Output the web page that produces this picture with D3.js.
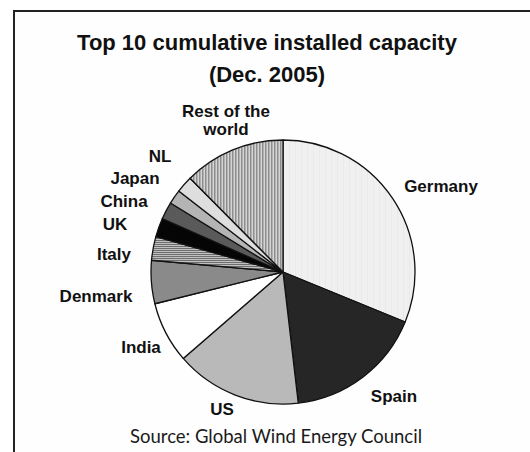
<!DOCTYPE html>
<html><head><meta charset="utf-8">
<script src="https://cdn.jsdelivr.net/npm/d3@7"></script>
<style>html,body{margin:0;padding:0;background:#fff;}svg{display:block;}</style>
</head><body>
<svg id="c" width="530" height="452"></svg>
<script>
const countries = ["Germany","Spain","US","India","Denmark","Italy","UK","China","Japan","NL","Rest of the world"];
const capacityMW = [18428,10027,9149,4430,3122,1717,1353,1260,1040,1219,7346];
const fills = ["url(#pGer)","#262626","#b9b9b9","#ffffff","#8a8a8a","url(#pIta)","#050505","#5a5a5a","#b4b4b4","#dedede","url(#pRest)"];
const labelLines = [["Germany"],["Spain"],["US"],["India"],["Denmark"],["Italy"],["UK"],["China"],["Japan"],["NL"],["Rest of the","world"]];
const labelPos = [[441,192],[394,402],[222,415],[141,353],[96,302],[114,260],[115,230],[124,207],[135,184],[160,162],[226,117]];
const titleLines = ["Top 10 cumulative installed capacity","(Dec. 2005)"];
const sourceText = "Source: Global Wind Energy Council";

const svg = d3.select("#c");
const defs = svg.append("defs");
const pg = defs.append("pattern").attr("id","pGer").attr("patternUnits","userSpaceOnUse").attr("width",6).attr("height",6);
pg.append("rect").attr("width",6).attr("height",6).attr("fill","#f0f0f0");
pg.append("rect").attr("width",1).attr("height",6).attr("fill","#e9e9e9");
const pi = defs.append("pattern").attr("id","pIta").attr("patternUnits","userSpaceOnUse").attr("width",4).attr("height",2);
pi.append("rect").attr("width",4).attr("height",2).attr("fill","#c0c0c0");
pi.append("rect").attr("width",4).attr("height",1).attr("fill","#6e6e6e");
const pr = defs.append("pattern").attr("id","pRest").attr("patternUnits","userSpaceOnUse").attr("width",3).attr("height",4);
pr.append("rect").attr("width",3).attr("height",4).attr("fill","#d4d4d4");
pr.append("rect").attr("width",1.5).attr("height",4).attr("fill","#8e8e8e");

// frame (left and top edges only visible)
svg.append("rect").attr("x",14).attr("y",11).attr("width",516).attr("height",441).attr("fill","#fefefe");
svg.append("path").attr("d","M14,452 V11 H530").attr("fill","none").attr("stroke","#222").attr("stroke-width",2);

const cx = 283, cy = 272, r = 132;
const pie = d3.pie().sort(null).value(d => d)(capacityMW);
const arc = d3.arc().innerRadius(0).outerRadius(r);
const g = svg.append("g").attr("transform",`translate(${cx},${cy})`);
g.selectAll("path").data(pie).join("path")
  .attr("d",arc).attr("fill",(d,i)=>fills[i])
  .attr("stroke","#111").attr("stroke-width",1.3).attr("stroke-linejoin","round");

const font = "'Liberation Sans', Arial, sans-serif";
svg.append("g").selectAll("text").data(titleLines).join("text")
  .attr("x",267).attr("y",(d,i)=>50+i*32).attr("text-anchor","middle")
  .attr("font-family",font).attr("font-weight","bold").attr("font-size",22).attr("fill","#111")
  .text(d=>d);

const lg = svg.append("g");
labelLines.forEach((lines,i)=>{
  const t = lg.append("text").attr("text-anchor","middle")
    .attr("font-family",font).attr("font-weight","bold").attr("font-size",17).attr("fill","#111");
  lines.forEach((ln,j)=>{
    t.append("tspan").attr("x",labelPos[i][0]).attr("y",labelPos[i][1]+j*18).text(ln);
  });
});

svg.append("text").attr("x",276).attr("y",443).attr("text-anchor","middle")
  .attr("font-family","Lato, 'Open Sans', sans-serif").attr("font-size",18.5).attr("fill","#1a1a1a")
  .text(sourceText);
</script>
</body></html>
